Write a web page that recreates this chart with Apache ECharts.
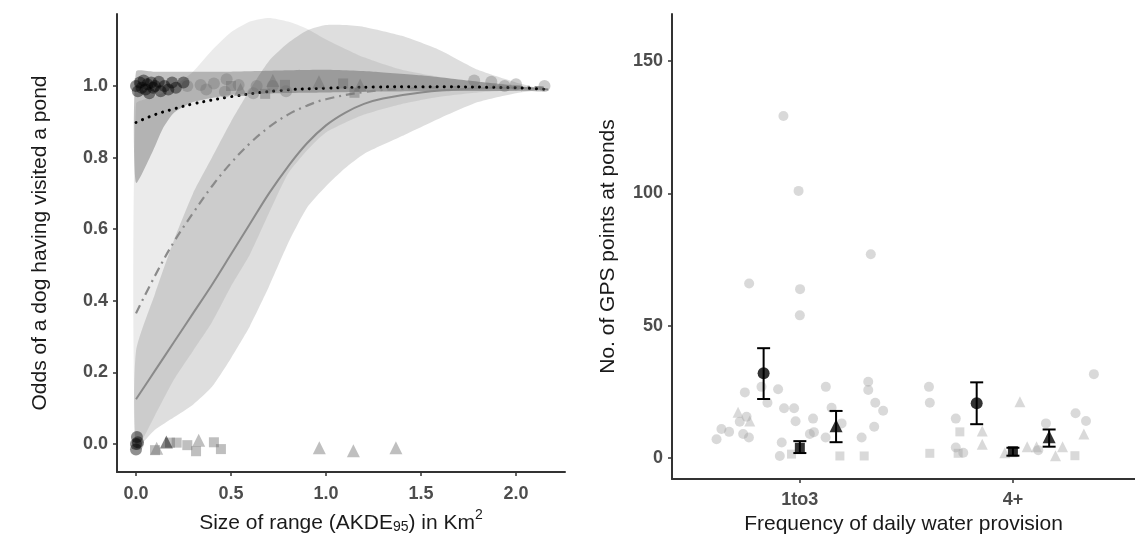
<!DOCTYPE html>
<html><head><meta charset="utf-8">
<script src="https://cdn.jsdelivr.net/npm/echarts@6/dist/echarts.min.js"></script>
<style>html,body{margin:0;padding:0;background:#fff}#c{width:1135px;height:545px}</style>
</head><body><div id="c"></div>
<script>
// ===== LEFT PANEL DATA =====
const xTicksLeft = [0, 0.5, 1.0, 1.5, 2.0];
const yTicksLeft = [0, 0.2, 0.4, 0.6, 0.8, 1.0];

// fitted curves
const fitAx = [0, 0.1, 0.2, 0.3, 0.5, 0.75, 1.0, 1.25, 1.5, 2.0, 2.17];
const fitAy = [0.898, 0.92, 0.936, 0.95, 0.97, 0.987, 0.994, 0.997, 0.998, 0.995, 0.99];
const fitBx = [0, 0.1, 0.2, 0.3, 0.4, 0.5, 0.6, 0.7, 0.8, 0.9, 1.0, 1.2, 1.4, 1.7, 2.0, 2.17];
const fitBy = [0.365, 0.47, 0.565, 0.645, 0.72, 0.785, 0.84, 0.885, 0.92, 0.945, 0.963, 0.983, 0.992, 0.997, 0.998, 0.995];
const fitCx = [0, 0.1, 0.2, 0.3, 0.4, 0.5, 0.6, 0.7, 0.8, 0.9, 1.0, 1.1, 1.2, 1.3, 1.5, 1.75, 2.0, 2.17];
const fitCy = [0.125, 0.205, 0.285, 0.365, 0.445, 0.53, 0.615, 0.70, 0.775, 0.84, 0.89, 0.925, 0.95, 0.965, 0.982, 0.992, 0.995, 0.99];

// confidence bands
const bandAx = [0, 0.09, 0.14, 0.2, 0.3, 0.5, 0.75, 1.0, 1.25, 1.5, 1.75, 2.0, 2.15];
const bandAlo = [0.73, 0.82, 0.88, 0.925, 0.955, 0.975, 0.98, 0.982, 0.984, 0.985, 0.986, 0.986, 0.985];
const bandAhi = [1.04, 1.04, 1.04, 1.04, 1.04, 1.04, 1.043, 1.045, 1.04, 1.03, 1.015, 1.0, 0.99];
const bandBx = [0, 0.1, 0.2, 0.3, 0.4, 0.5, 0.6, 0.7, 0.8, 0.9, 1.0, 1.2, 1.4, 1.6, 1.8, 2.0, 2.15];
const bandBlo = [-0.01, 0.08, 0.18, 0.26, 0.34, 0.44, 0.53, 0.645, 0.755, 0.82, 0.87, 0.92, 0.95, 0.97, 0.982, 0.988, 0.99];
const bandBhi = [0.95, 0.97, 1.0, 1.04, 1.1, 1.15, 1.18, 1.19, 1.18, 1.16, 1.13, 1.08, 1.045, 1.025, 1.012, 1.003, 0.99];
const bandCx = [0, 0.1, 0.2, 0.3, 0.4, 0.5, 0.6, 0.7, 0.8, 0.9, 1.0, 1.1, 1.2, 1.4, 1.6, 1.8, 2.0, 2.15];
const bandClo = [-0.01, 0.04, 0.075, 0.11, 0.16, 0.24, 0.33, 0.44, 0.56, 0.66, 0.72, 0.77, 0.81, 0.86, 0.91, 0.955, 0.98, 0.99];
const bandChi = [0.26, 0.42, 0.57, 0.7, 0.8, 0.9, 0.99, 1.07, 1.12, 1.155, 1.17, 1.17, 1.165, 1.14, 1.1, 1.045, 1.01, 0.99];

// observed points [size of range, visited (0/1, jittered)]
const blackCircles = [[0.0,1.0],[0.01,0.985],[0.02,1.01],[0.03,0.995],[0.04,1.015],[0.05,0.99],[0.06,1.005],[0.07,0.98],[0.08,1.01],[0.09,0.995],[0.1,1.0],[0.12,1.012],[0.13,0.985],[0.15,1.0],[0.17,0.99],[0.19,1.01],[0.21,0.995],[0.25,1.01],
  [0.0,0.0],[0.005,0.02],[0.0,-0.015],[0.01,0.005]];
const blackTriangles = [[0.16,0.006]];
const grayCircles = [[0.27,1.0],[0.34,1.003],[0.37,0.99],[0.41,1.007],[0.477,1.019],[0.468,0.984],[0.54,1.003],[0.617,0.98],[0.635,1.0],[0.72,1.0],[0.79,0.985],
  [1.78,1.015],[1.87,1.012],[1.94,1.0],[2.0,1.005],[2.15,1.0],[0.01,0.0]];
const grayTriangles = [[0.72,1.015],[0.963,1.012],[1.18,1.003],[0.55,0.99],
  [0.109,-0.012],[0.33,0.011],[0.965,-0.01],[1.144,-0.019],[1.368,-0.01]];
const graySquares = [[0.68,0.978],[0.784,1.003],[1.09,1.007],[1.15,0.981],[0.5,1.0],
  [0.1,-0.017],[0.179,0.004],[0.214,0.004],[0.27,-0.003],[0.316,-0.02],[0.41,0.005],[0.447,-0.014]];

// ===== RIGHT PANEL DATA =====
const categories = ['1to3', '4+'];
const yTicksRight = [0, 50, 100, 150];
// group means with error bars (circle / square / triangle groups)
const meanCircle = [32, 20.7], loCircle = [22.3, 12.8], hiCircle = [41.5, 28.6];
const meanSquare = [3.9, 2.6], loSquare = [1.9, 0.9], hiSquare = [6.4, 3.9];
const meanTri = [12.2, 8.1], loTri = [6.0, 4.3], hiTri = [17.8, 10.8];
const dodge = 0.17;
// individual dogs [jittered category position, value]
const ptCircles = [[0.609,7.1],[0.632,11],[0.668,9.9],[0.742,24.8],[0.718,13.7],[0.75,15.6],[0.734,9.1],[0.761,7.8],[0.82,26.9],[0.848,20.9],[0.898,26],[0.926,18.8],[0.973,18.8],[0.98,13.9],[0.915,5.9],[0.906,0.8],[1.062,14.9],[1.066,9.8],[1.047,9.1],[1.122,26.9],[1.149,19],[1.196,13.1],[1.121,7.8],[1.321,28.8],[1.321,25.7],[1.354,20.9],[1.391,17.9],[1.349,11.8],[1.29,7.8],[0.923,129.2],[0.994,100.9],[0.762,65.9],[1.001,63.8],[1.0,53.9],[1.333,77],
  [1.606,26.9],[1.61,20.9],[1.732,14.9],[1.732,4.0],[1.767,2.0],[2.119,3.0],[2.155,13.1],[2.294,16.9],[2.343,14],[2.38,31.7]];
const ptSquares = [[0.961,1.5],[1.188,0.8],[1.302,0.8],
  [1.751,9.9],[1.743,1.8],[1.61,1.8],[2.0,2.0],[2.291,0.9]];
const ptTriangles = [[0.71,17.3],[0.765,14],
  [1.856,10.2],[1.856,5.2],[2.033,21.3],[1.962,2.0],[2.067,4.3],[2.111,4.3],[2.233,4.3],[2.2,0.9],[2.333,9.1]];

// ===== build =====
const zip = (xs, ys) => xs.map((x, i) => [x, ys[i]]);
const AX = '#333333', TXT = '#4d4d4d';
const FONT = '"Liberation Sans", Arial, sans-serif';

function bandSeries(xs, lo, hi, color) {
  return {
    type: 'custom', xAxisIndex: 0, yAxisIndex: 0, silent: true, z: 1,
    data: [[xs[0], lo[0]]],
    renderItem: (params, api) => {
      const pts = [];
      for (let i = 0; i < xs.length; i++) pts.push(api.coord([xs[i], hi[i]]));
      for (let i = xs.length - 1; i >= 0; i--) pts.push(api.coord([xs[i], lo[i]]));
      return { type: 'polygon', shape: { points: pts, smooth: 0.2 }, style: { fill: color } };
    }
  };
}
function errSeries(pos, lo, hi) {
  const data = pos.map((p, i) => [p, lo[i], hi[i]]);
  return {
    type: 'custom', xAxisIndex: 1, yAxisIndex: 1, z: 5, data,
    renderItem: (params, api) => {
      const x = api.value(0);
      const a = api.coord([x, api.value(1)]), b = api.coord([x, api.value(2)]);
      const w = 6.5;
      const st = { stroke: '#000', lineWidth: 2 };
      return { type: 'group', children: [
        { type: 'line', shape: { x1: a[0], y1: a[1], x2: b[0], y2: b[1] }, style: st },
        { type: 'line', shape: { x1: a[0]-w, y1: a[1], x2: a[0]+w, y2: a[1] }, style: st },
        { type: 'line', shape: { x1: b[0]-w, y1: b[1], x2: b[0]+w, y2: b[1] }, style: st }
      ]};
    }
  };
}
const catPos = off => categories.map((c, i) => i + 1 + off);

const tickLabel = { fontFamily: FONT, fontSize: 18, fontWeight: 'bold', color: TXT };
const axisCommon = {
  axisLine: { show: true, onZero: false, lineStyle: { color: AX, width: 2 } },
  axisTick: { show: true, length: 4, lineStyle: { color: AX, width: 1.5 } },
  splitLine: { show: false }
};
const nameStyle = { fontFamily: FONT, fontSize: 21, color: '#1a1a1a' };

const option = {
  animation: false,
  backgroundColor: '#fff',
  grid: [
    { left: 117, top: 14, width: 448, height: 458 },
    { left: 672, top: 14, width: 463, height: 465 }
  ],
  xAxis: [
    Object.assign({}, axisCommon, {
      type: 'value', gridIndex: 0, min: -0.1, max: 2.258,
      axisTick: Object.assign({}, axisCommon.axisTick, { customValues: xTicksLeft }),
      axisLabel: Object.assign({}, tickLabel, { customValues: xTicksLeft, margin: 13, formatter: v => v.toFixed(1) }),
      name: '{a|Size of range (AKDE}{s|95}{a|) in Km}{p|2}', nameLocation: 'middle', nameGap: 34,
      nameTextStyle: { rich: {
        a: { fontFamily: FONT, fontSize: 21, color: '#1a1a1a', lineHeight: 26, verticalAlign: 'bottom' },
        s: { fontFamily: FONT, fontSize: 14, color: '#1a1a1a', lineHeight: 14, verticalAlign: 'bottom' },
        p: { fontFamily: FONT, fontSize: 14, color: '#1a1a1a', lineHeight: 14, verticalAlign: 'top' }
      } }
    }),
    Object.assign({}, axisCommon, {
      type: 'value', gridIndex: 1, min: 0.4, max: 2.573,
      axisTick: Object.assign({}, axisCommon.axisTick, { customValues: [1, 2] }),
      axisLabel: Object.assign({}, tickLabel, { customValues: [1, 2], margin: 12, formatter: v => categories[Math.round(v) - 1] }),
      name: 'Frequency of daily water provision', nameLocation: 'middle', nameGap: 34, nameTextStyle: nameStyle
    })
  ],
  yAxis: [
    Object.assign({}, axisCommon, {
      type: 'value', gridIndex: 0, min: -0.078, max: 1.201,
      axisTick: Object.assign({}, axisCommon.axisTick, { customValues: yTicksLeft }),
      axisLabel: Object.assign({}, tickLabel, { customValues: yTicksLeft, margin: 9, formatter: v => v.toFixed(1) }),
      name: 'Odds of a dog having visited a pond', nameLocation: 'middle', nameRotate: 90, nameGap: 66, nameTextStyle: nameStyle
    }),
    Object.assign({}, axisCommon, {
      type: 'value', gridIndex: 1, min: -7.9, max: 167.7,
      axisTick: Object.assign({}, axisCommon.axisTick, { customValues: yTicksRight }),
      axisLabel: Object.assign({}, tickLabel, { customValues: yTicksRight, margin: 9 }),
      name: 'No. of GPS points at ponds', nameLocation: 'middle', nameRotate: 90, nameGap: 53, nameTextStyle: nameStyle
    })
  ],
  series: [
    bandSeries(bandCx, bandClo, bandChi, 'rgba(0,0,0,0.13)'),
    bandSeries(bandBx, bandBlo, bandBhi, 'rgba(0,0,0,0.08)'),
    bandSeries(bandAx, bandAlo, bandAhi, 'rgba(0,0,0,0.24)'),
    { type: 'line', xAxisIndex: 0, yAxisIndex: 0, data: zip(fitCx, fitCy), smooth: 0.4, showSymbol: false, z: 3,
      lineStyle: { color: '#8a8a8a', width: 2 } },
    { type: 'line', xAxisIndex: 0, yAxisIndex: 0, data: zip(fitBx, fitBy), smooth: 0.4, showSymbol: false, z: 3,
      lineStyle: { color: '#8a8a8a', width: 2.2, type: [9, 5, 2, 5] } },
    { type: 'line', xAxisIndex: 0, yAxisIndex: 0, data: zip(fitAx, fitAy), smooth: 0.4, showSymbol: false, z: 3,
      lineStyle: { color: '#000', width: 3, type: [0.1, 7], cap: 'round' } },
    { type: 'scatter', xAxisIndex: 0, yAxisIndex: 0, data: grayCircles, symbol: 'circle', symbolSize: 12, z: 4,
      itemStyle: { color: 'rgba(110,110,110,0.45)' } },
    { type: 'scatter', xAxisIndex: 0, yAxisIndex: 0, data: grayTriangles, symbol: 'triangle', symbolSize: 13, z: 4,
      itemStyle: { color: 'rgba(110,110,110,0.55)' } },
    { type: 'scatter', xAxisIndex: 0, yAxisIndex: 0, data: graySquares, symbol: 'rect', symbolSize: 10, z: 4,
      itemStyle: { color: 'rgba(110,110,110,0.55)' } },
    { type: 'scatter', xAxisIndex: 0, yAxisIndex: 0, data: blackCircles, symbol: 'circle', symbolSize: 12, z: 4,
      itemStyle: { color: 'rgba(0,0,0,0.55)' } },
    { type: 'scatter', xAxisIndex: 0, yAxisIndex: 0, data: blackTriangles, symbol: 'triangle', symbolSize: 13, z: 4,
      itemStyle: { color: 'rgba(0,0,0,0.6)' } },

    { type: 'scatter', xAxisIndex: 1, yAxisIndex: 1, data: ptCircles, symbol: 'circle', symbolSize: 10, z: 2,
      itemStyle: { color: 'rgba(160,160,160,0.5)' } },
    { type: 'scatter', xAxisIndex: 1, yAxisIndex: 1, data: ptSquares, symbol: 'rect', symbolSize: 9, z: 2,
      itemStyle: { color: 'rgba(160,160,160,0.5)' } },
    { type: 'scatter', xAxisIndex: 1, yAxisIndex: 1, data: ptTriangles, symbol: 'triangle', symbolSize: 11, z: 2,
      itemStyle: { color: 'rgba(160,160,160,0.5)' } },
    errSeries(catPos(-dodge), loCircle, hiCircle),
    errSeries(catPos(0), loSquare, hiSquare),
    errSeries(catPos(dodge), loTri, hiTri),
    { type: 'scatter', xAxisIndex: 1, yAxisIndex: 1, data: zip(catPos(-dodge), meanCircle), symbol: 'circle', symbolSize: 12, z: 6,
      itemStyle: { color: '#000' } },
    { type: 'scatter', xAxisIndex: 1, yAxisIndex: 1, data: zip(catPos(0), meanSquare), symbol: 'rect', symbolSize: 10, z: 6,
      itemStyle: { color: '#000' } },
    { type: 'scatter', xAxisIndex: 1, yAxisIndex: 1, data: zip(catPos(dodge), meanTri), symbol: 'triangle', symbolSize: 13, z: 6,
      itemStyle: { color: '#000' } }
  ]
};
const chart = echarts.init(document.getElementById('c'), null, { renderer: 'canvas' });
chart.setOption(option);
</script></body></html>
